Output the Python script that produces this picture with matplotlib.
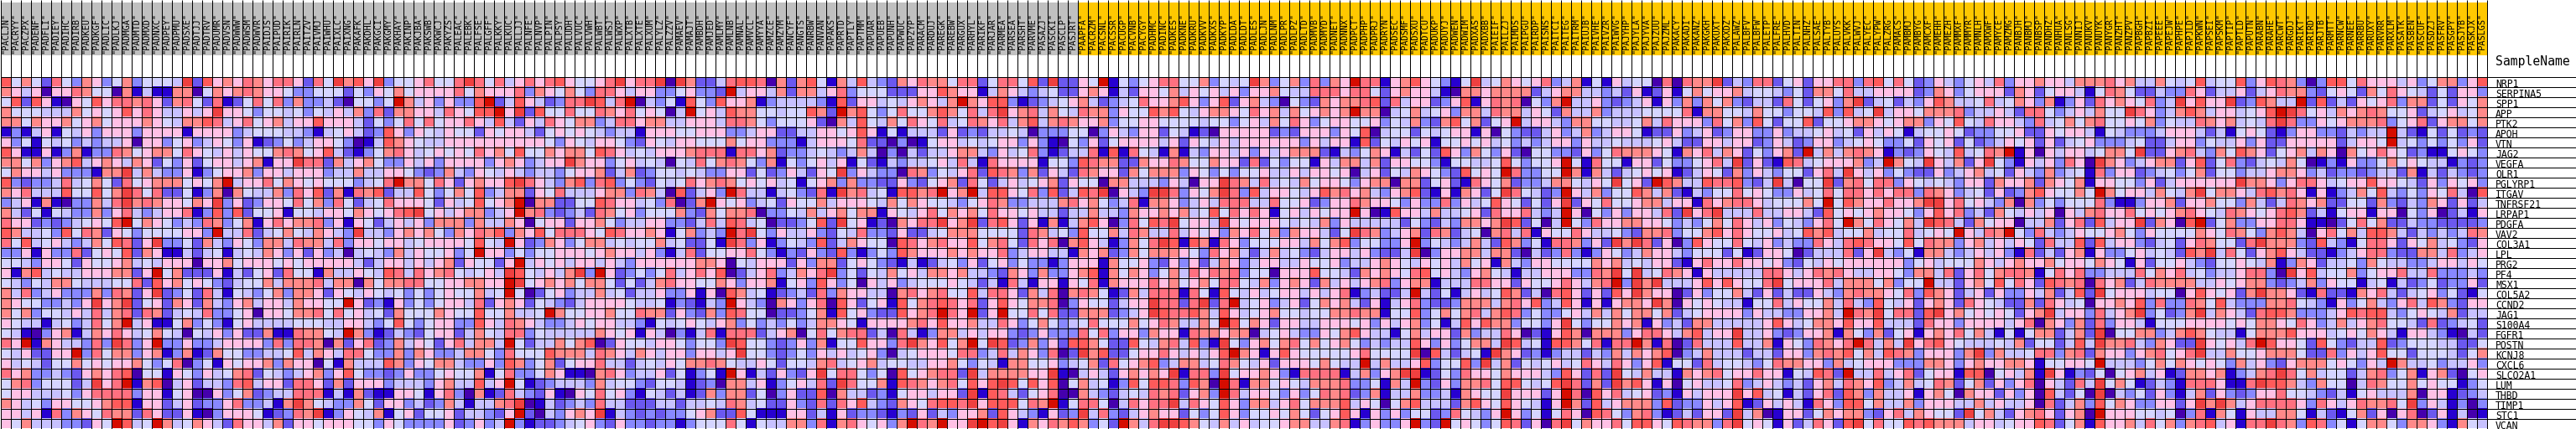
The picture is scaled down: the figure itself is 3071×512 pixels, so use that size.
import numpy as np
import matplotlib
matplotlib.use("Agg")
import matplotlib.pyplot as plt
from matplotlib.colors import ListedColormap, BoundaryNorm

W, H = 3071, 512

genes = ["NRP1", "SERPINA5", "SPP1", "APP", "PTK2", "APOH", "VTN", "JAG2", "VEGFA", "OLR1",
         "PGLYRP1", "ITGAV", "TNFRSF21", "LRPAP1", "PDGFA", "VAV2", "COL3A1", "LPL", "PRG2", "PF4",
         "MSX1", "COL5A2", "CCND2", "JAG1", "S100A4", "FGFR1", "POSTN", "KCNJ8", "CXCL6", "SLCO2A1",
         "LUM", "THBD", "TIMP1", "STC1", "VCAN"]

gray_samples = """PACLJN PACRYY PACZPX PADENF PADFLI PADIEY PADIHC PADIRB PADKEU PADKGF PADLIC PADLKJ
PADMGA PADMTD PADMXD PADNXC PADPEY PADPMU PADSXE PADTJJ PADTRV PADUMR PADVSN PADWWW PADWSM PADWVR
PAIDJS PAIPUD PAIRIK PAIRLN PAITZV PAIVMJ PAIWHU PAIXLC PAIXNG
PAKAFK PAKDHL PAKGCI PAKGMY PAKHAY PAKINP PAKJBA PAKSWB PAKWCJ PAKYZS PALEAC PALEBK PALFSE PALGFF
PALKKY PALKUC PALLJJ PALNFE PALNVP PALPIN PALPSY PALUDH PALVUC PALVWH PALWBT PALWSJ PALWXP PALXTB
PALXTE PALXUM PALYLZ PALZZV PAMAEV PAMAJT PAMBDH
PAMJED PAMLMY PAMLNB PAMNAL PAMVCL PAMYYA PAMZCE PAMZYM PANCYF PANGTS PANRBW PANVAN PAPAKS PAPRTD
PAPTLY PAPTMM PAPUAR PAPUEB PAPUNH PAPWUC PAPZYP PARACM PARDUJ PAREGK PAREBW PARGUX PARHYL PARIKF
PARJAR PARMEA PARSEA PARSHT PARVME PASAZJ PASCKI
PASCLP PASJRT""".split()

yellow_samples = """PAAPFA PACRZM PACSNL PACSSR PACUGP PACVNB PACYGY PADHMC PADINC PADKES PADKNE PADKRU
PADKVV PADKXS PADKYP PADLDA PADLDT PADLES PADLJN PADLNM PADLPR PADLPZ PADLTD PADMVB PADMYD PADNET
PADNNX PADPCT PADPHP PADPRJ PADRYN PADSEC PADSMF
PADSXU PADTCU PADUKP PADUYJ PADWEN PADWIM PADXAS PADXBB PAIEIF PAILZJ PAIMDS PAIPGU PAIRDP PAISNS
PAITCI PAITEG PAITRM PAIUJB PAIVHE PAIVZR PAIWVG PAJYHP PAJYLA PAJYVA PAJZUU PAJZML PAKACY PAKADI
PAKANZ PAKGKH PAKUXT PAKXDZ PALAWZ PALBFV PALBFW
PALETP PALFRE PALHVD PALTIN PALNHZ PALSAE PALTYB PALUYS PALVKK PALWVJ PALYEC PALYPW PALZRG PAMACS
PAMBMJ PAMBYG PAMCXF PAMEHH PAMEZH PAMMXF PAMMYR PAMNLH PAMXWF PAMYCE PAMZMG PANBJH PANBMJ PANBSP
PANDHZ PANHUA PANLSG PANNIJ PANUKV PANUYK PANYGR PANZHT
PANZPV PAPBGH PAPBZI PAPEEE PAPEJW PAPHPE PAPJLD PAPKWN PAPSEI PAPSKM PAPTIP PAPTLD PAPUTN PARABN
PARAHE PARCWT PARGDJ PARIKT PARIRD PARJTB PARMTT PARNCW PARNEE PARRBU PARUXY PARVRR PARXLM PASATK
PASBEN PASCUF PASDZJ PASFRV PASGPY PASJYB PASKJX PASLGS""".split()

# colour level per cell, a (deep blue) .. l (deep red)
level_colors = ["#4500AD", "#2700D1", "#6B58EF", "#8888FF", "#C7C1FF", "#D5D5FF",
                "#FFC0E5", "#FF8989", "#FF7080", "#FF5A5A", "#EF4040", "#D60C00"]

block1 = ["jfhfcifdhg dfhdfffekc jghgihgiig cifkh", "hgegaggihf fahbebbhha fhghihggfd dfffc",
          "fjcjgbagfj giihigchif cibcfifidh ddeca", "hfffeeehfg fgjgigeege gkggfdffef dfege",
          "hhfhgghfgh fggghgfehh jiegifgheg gjggg", "bdbegbfegd gggdggggbg gggdefffee dbefg",
          "gdfbfefded eegaggdfgd egfdgbcdfd eggfd", "jgbbgbdhbd dihfghhfig fegegffhih fgjec",
          "hhfhdghjeg hgehgcfdgc fggeghbggk iiche", "fhggegdddb hhkeheddgb dfgghdggeg ggdee",
          "jdcddeiefh fcifghhhfg fhleggifhg fgfff", "hgieeejffj fhkificcfb dhahfeehdi gjchb",
          "degbhbaddh eikhihggfh gkdgcdggfi fhdif", "hecfbfeddh dgiedeggib djdjcffgbf feggf",
          "iggcdcdefg fjlfhgfded ihdfhbgigh hidgb", "jheefdjfih cgfdffffgg dleeicefhf ehged",
          "ifjefgedeh fjicgkddfc hedgfdhhei hheid", "ddgbgddicf gfjchgbbec efbefehgdg cgdea",
          "ffedggfcgf fghefeggga gghfgggfgf ggggg", "gbhjefeegg ghhcglfhcc cgbecfgcif fbhee",
          "fedfehhfee efficjghfg fdceffhehh hiehh", "heidegdddh dihcgkcdfc iebfedfhdh hgcgf",
          "hgffddedgk ghkcfgchgc hedgheggeh ggffl", "hfhdffegei ehicihcefe iddfgaggfh hifif",
          "gfeebefdei fhlegbbfhd fdbfgeeeef ffeeg", "febadghbeh gigefhfeaf egdgcchbbi hhfel",
          "iglbhgeedi dkidglddgd deggggdidi ihahc", "fegccggldi fhhdghbdhb chffddeefj ehgei",
          "gefecffhfg fgghfdfiad fbgfgghdhg gafbh", "ighddedcgh gijaffbgfd gefhicfede ghdgj",
          "fhidfffcek gilbhjaegc eedijeggci igchc", "fggeeefdgi iiidggbfga agdfhcdeei iibeb",
          "hgefdggffg hjjbggcegc ddgiddebhk hfedd", "ggegbidhgf ihhcigccgb adgggfbcdi hkbdg",
          "gfheeeddcg fljeflhefh geciggehcg gfggg"]

block2 = ["jgkdffgiff ikifiegigi jgffgikgii kakhc", "fdgfhfgggg ifhgggidhg fhfdiigegg ddfgd",
          "ffdflhegdg ddjlcejgec diikjeilae dfbjf", "hdichhggei gfjjlgkcjf fiffihgifg faelf",
          "ecfdfififg gigejecgei gfhhdeiigh heegg", "ecdjgdgfeg ffcgfggecf gfgfedeebg ggffg",
          "abejhgfeeg gggggggggf dgfeggfdcg feggf", "bdfhigefgf gfighfjffh ghhfjigefe ggghi",
          "ghfddgegdg gggdghgdeg gkhggdfgef eafei", "heeggfdcdh edgfegedee dfgghcehcd ffefe",
          "defilhhfig cghggjkige dhjdijdfdc fefig", "ihjceejfdf hfjdehhcgf ieeeghhdih eajce",
          "cefigggfcg efjfghlahh ccffjiggef diach", "hgfgijkfge ghhdeglhid cdecihfgdf ffhdc",
          "gfcegegdhh hdheehgafg gcgghfdeeg gddce", "keedghghfd hgihjdhgjf iiigfjiggh gbfhd",
          "ggfggefggg gfjfelgcdh gdfhhefeff hefcc", "efedhegffg dflggdfdff gggfghggeg dbeic",
          "eceggegegh cgffcglegf geggegedgg ggggh", "gfejieighi fefgekjfeg ehkdlgcdfd fiegi",
          "ahfhhiiffg ghhgglkfgh ghfhhfcfce higgf", "egfefdfdfg ffheflfacf gdeehefcee gddgb",
          "gcdbgdfdfg geicghgcfe dceggggfee fbdcb", "gefchfffhg ffjffheefl hffgghffih hcgdc",
          "gedfjfdfgg ddjgeihged degfggeedb fefgf", "hdbcedcfgg cehfeiidfe eeeehgfgbg eadbe",
          "gicdhegfcg iehhelfcee hfhjacgffe ggfdf", "ifddhdhgdd ehhfdifffj hhheihgehg eggdg",
          "eeejhdgfhh eddgdjhdfh cfggieecef egfhh", "fddcdgddfg ffhbfiddfh gbbahigdee gcfbd",
          "gggdeeedgh eejeglfbcd eeedheffdc ffebc", "hcbbggfbgi dahbciedcg bagfifgdbf ecebc",
          "hfcggdecdh ebeehikabe cdedieeccc eecee", "fehbfgcffg ceedcglcae dghgkbedcd cddfg",
          "ffdgfddddg cdgdeldbcc defgdcgddc ddbdf"]

block3 = ["ceijjiahch jfbhejedch gihhfiicfi ifjck", "dcleggehch hegidfffcc cggjhggbeh gedef",
          "djgghbdeee edbjcggefe ghgehlhgjj dbcde", "gejhhffeff jhclhjfdfi ffhjhfieik ghieh",
          "geiihfdfff gcahejfehf igfiefihgi ehjeh", "ggddeggcce eggfgjgbfb eeecgcdcee feadd",
          "ffhfggdddb egggficcad abfggefefg gdgdb", "iibiighcdd efedeheada eceeghhedg efidb",
          "fhihfdhbfd fgegbfcbed eefgeiebig gggbf", "ddggcfcdge cgfkdgedda ihdfegicji hdhcg",
          "hihfgfgefb fghdhddccg dcfghcifce gefgh", "gdlieebefd cibkhiefbj jhilghlejj gfidj",
          "lgfgdefcgf fhegggfehf hgffedfgih ddeee", "hfhhiaddfe heghfhhbgf egifhghfig gfgee",
          "iejiefaccd fjckfgbcah giikghkcij gcgbh", "edlikfdgee gdcfeiddcg ccefhhhfff fcihe",
          "fbkidgbdfe djcehgffaj ighiggjfhi fcigi", "ffggifdbdc gdcjdbdfdj hggghghggi degge",
          "hgafegggcg dhhcfgfdcb ebcefdgcfg dfddb", "gjacegideh gikdfcfehf gehhgheedc hgdhd",
          "fhgdgghbfg djgdfagegd efffgfeceb iebgg", "gajhefbcde cidhggeeah ighiffjeii gchei",
          "edlgedahgd giajgcfgbj fhijigicgj gfhhi", "hdjiffaccd fhbjfgdccj ghiliglcgl ffifi",
          "eghdfdedfd ehhgfbgggg higjggheei gdfhf", "ibiiicegha fifhiiceai ebdhhegegg dcdgd",
          "fdkjffdcdg dhbffjggdi khgjfhlfkj cdhdg", "gegkffdcdf dgegefgdae fgggfiidei ehgdi",
          "ihfeegfcff ehiefgheff eegghfdfeb hhffg", "fblgbecgdc gkfiifdfaj fghiickehh hhggk",
          "dahhegbdfg eickiffhbj ihghifjgjk jfjgj", "hdhhcfadgc cjaheecdbf ggeggckbji ecfgi",
          "feihefccgd cicigjedch gfijjikgjj jfihl", "hccjfbbbgg cebgcddcbd cgcedgghcj gedbg",
          "ffifbfeehh dibhigfgdh lihlggkljk gbhgi"]

block4 = ["ccgflbfdfg iiffhdfefk hdfhdidhgl iibgh", "ccghgbecgg fhegfgegdg ghfeeiiigi ifcgh",
          "fghecdefig ghjgdgjcgh edafdchghh ijcie", "feihhdgffj hjfeghhgfi ghehfghghl hhaef",
          "ihgghdffgg ffffeffdfg ehfigdfggf fgdfe", "dffadgedgg cfebcagggg gcdcgggdgf jaeff",
          "afdgcfgggg egcgfegegg ggggdgeggb jcfeg", "ceeibjbife bhbedggegd geghhhcbed fhgbe",
          "fdjihhcchg gihffhggci cfdffbgehh ehcgg", "ecihggchfh hhdgfdfdff geegeggfga egcfe",
          "cgffahheee dgeaggkihe iefehfggfd ghhah", "cejikagedk kidgfhkidj eggfegjhig hedgh",
          "highfdeibh hgdegeiiie eiffgcdggi hggfd", "ceeheedhgg hghefjfigi gbfgegfggl gabjg",
          "behjgadifj ikfggekgfg ggfefehdge eeeec", "fdjffheihe eiegfgdhgi fhdhggecfk ihdeg",
          "ahjgebdhfi kjbjhbigdf ffggehfhjd ffddg", "ebhghcdhfh hhgfdighec ehefdcegge gdcce",
          "dgggbhffgd cgdgcehgde ggeegffgde eghgf", "dghjbhfhgd fheigihidf fagggjffec hghgf",
          "bgfibhgggi ghfghfiife hdghgchege ghidg", "ahihfbchei iibifbjfeg efggegegib decce",
          "adgffceggk iicikcilef gdegcfhghe cgbeg", "cchhhcdegk jiijhejgef ghffeffhhi hhbff",
          "defifffhfg iheehfljfh gcggeegggf gdgeg", "ddifidggdh ggbihhghha efgeddgfhj geebf",
          "cjjhfccjfe hiejdbkfdg hfhifhfghf dedee", "ackhjccfgg igegegjlhg bgjgfffffg iffff",
          "defhcifghj dehhefihfe gcgggfhfee lehee", "baegecghgh gkbiidkfgg hgdbiiiibe hdghk",
          "afhefbdjfj jidjhalibh hfgfehhhid dfbhe", "aahedcefei hicghdlieg gfdgdfihic dhbee",
          "bfiifaeigi ikeigfjgdh hegifhhhje gfafh", "cdkeidcegh ggcfdfjgdf fgfhfcfgjg bgdgd",
          "hjhdfclhei kkjhfehege ffghheehib dgddg"]

block5 = ["jgfdbfkefh gfgidehbfb geffaiaihh kcedi", "ggebahhghh hhceghheed ecgbcgbfhf gghef",
          "ggcdgjbgih iafdhleegd cdegbgdhdh fhdce", "hefgdhheih hegfcheehd eeeffffibh hffeh",
          "hdchjfhcfg leggedhhff eefheigggd ifhdj", "cfefggbgaf dccegdehde ggfbccgdeg cdggd",
          "fgbffgfgef dedeggdgee feeefgeccg geggc", "cfcjgdhfdg caffddcgdf ihhhgfbhgi ehgcf",
          "ffdbffeefj fdffglfbif fbggcfddfg iekcg", "hgfdcjfgfl iddfflhbhe cefgfgbceg fchdg",
          "hcfgcbigfh cddehhfegf kfgcljheej iijdc", "jcbgbhgcfk ifecdlgehd ffjhehcbed ffifg",
          "gddidgefjg fcfcgkcgfi ffghheggbi ghiig", "geheefgcig giedelgafd gdggeickgi keeei",
          "fdcedhhghk jcfaelfdig ghhggfdedf hfige", "hcihcefahi eibgffigee fdchhidffh jgigf",
          "ldfedehecj hdfbiihdgc khkicgadjg ffife", "kadgghhehh caecdidbdg fdehggedff fcfbc",
          "egfgehfgbh edggffffhg hefeggcbgi ggigg", "ijfgedghfe beegggddih kfkefihgbg eeeee",
          "hhbeeeiigg cgffgigehi ldkhkeeegj gjgff", "lecfbegefj hceaijgcgc jgkhggacgd ffhec",
          "idccdhhheh igjdejgbgb ghhgkhagfg feebf", "jdfhfhiehj idfddfgehe hfhhfhcefg gggdg",
          "hdfbejgjhh dffdgkfdff hghbgdechh eeeee", "heggchdeei gacbgjhahh hdgiigehje ggkee",
          "jgdgdfhhek jefbjjhfib iilhbiacie eejee", "kajecefbkh gcdbdeeced hehghjadeh eeece",
          "gjdffjdkeh cfefgefige igdgjbffci effed", "kbcfdiggfh gggedjgcic kfeheebhgh ifggi",
          "ldcgdhhifj jfefjkichc khjgbgafge efide", "hddebhgffk gggcgliajg iefgcdbgeg ggkgj",
          "jeeechjgfj gfebglhcje ghhhdjcddg egjbc", "ffcdifedgl gdfbfigaji fdhidbcecg gckeh",
          "ldclfgfdfj icgaikfhgg ifjjgfjihh dikfg"]

block6 = ["icfgcggiid ijfifcdged fgeidgghgg ehhhig", "fedfchhfie eggggcdhgd fgggchgcfg gebfih",
          "ecifcfgdhk cefcedgjhe efiefhgdhb dgcigh", "ffdffejdje fkeggfhhhi deegeciifd egehff",
          "fcffjcffgh hgfghhdgfj feiggedief hfhiff", "dgdeefgefc gegfbeffgf cddffgccgf ggebfe",
          "dgecdggdef gfddfcgfgc fcdegfgcgc efgddd", "dghclehehi hgbdcdgfej efihlbgage ggefhh",
          "cbjiefgggh delhfekgeh cgkfdbgegd igakhg", "edffcgiekg egdfdccgde ghefcgedhd efbidg",
          "ekeaffkchi fiidgfefed ggchgghchg fhbggf", "fddgefifii gigiidihgd efcgcdhjgf fhflhf",
          "efffhflfjh ggigghkkgi fgedhahdfd fffidb", "eeggecjfgf ghggfdgjgi dechfegega gehigg",
          "gdfedgiflh figfhekjie chfggaeehc gicjeg", "fgefjhjeff heffiefgfl geihlfdied egffgh",
          "gdeddigeij iggfjfihhd ghegegfcie ejcjeg", "ggfaceeeic gkedfbhhed egegdbicec ghbgdd",
          "fgdcfegfgg ggggdfgeff fhgeghgghf ggfhgf", "iigegihige eggfdhheic gifhiihbfi giddee",
          "ikfgggiehh hfhdffleec ghfjfigcji hiaigh", "gceccgedhi hhgfidjhgc egcgddgehc ejckfg",
          "fiegffheie djfegcghgc igfecchcig efaggh", "eeddggheli hkfiicjkgh fgfgfcghke ggdieg",
          "gjgefhhgjg gjeeeciggd ggggegiahg dhcidg", "gdcdgghbhf dhcfgbghgi fhebfbfhhc ehckaf",
          "hbgfdihgil iehekgijgf eeefehcffc ejekhh", "ecggdhihjf hejihdgggd hkdheefiid hichgg",
          "fihhggdhef gggdddhhgd ghgghhgbff ggflee", "ggbfejicle eiegicfggb jjafgehbkg bdcfaf",
          "gedecgheih gjdehefihc fhcgdgiage ciekfh", "efbecgicjh dheegbghfa hggcgdgaje cfakae",
          "gegebigdjj fheehdggge ehegeegaic ehdjfh", "abggcfhghh dcgiehgffc kfhecghigc ghalgg",
          "fbgceigcjk fiffjijhhh eggefggjic fhbjgg"]

block7 = ["heehfefjef fjdgjihdad jjfigggegd fhhdgj", "fcceddigce egcegihhdc fgfchfigfe cfcggd",
          "gfidekgjgg kcdjheelcj cecgfgidhh cfcgfh", "kigdehjheg gefgjlkifg ehghihffgc efgefh",
          "gfhdfeeihg hefeikiddg fghhhidfgi cghhfh", "dddegggece bfgfcbdggd dcedeelecb fcfcdc",
          "efcceggdfe egdgccgggg gceggflefd fdfdgc", "fkccghiedh fjhgcfgheh gahfgigfcd bbfgfd",
          "deghhcgjcf idcefehfab dbgddfhfgf eebdcd", "gcdefdfhcf fdeeghhgde cddcdeechb ecedcd",
          "fdgceggggg gkhhgdgiig efggjggfec gdgfgd", "ggehfehkfh hgeijhigbg bdehfjedfd gfieaj",
          "bdgghcgghf fdheceihgh ccffchdced hgcgce", "ifgfghigfe ihgfgijhce bfggbggafd gacebg",
          "gkchgajlcf hddggiigbb acfifhcced dccccd", "fdgffffhgf ihfdhjheag ifhejjhece dedeih",
          "gdcefcgihf fcikhhhdcj edbfiigcgf hefdcg", "fgefecjhke ifcghjgecc bdegiidcch heideg",
          "bgcffgedcf fgfehbdhgc eefdhfeedd eggegf", "eifhgiefde egiidakgje ffhdfggiee iddded",
          "ceihhhheeg fghhdcdehd gffbefbecd fcddgc", "ggeffagjgf gchkhhgcbi ccbhgiecef gdfcbf",
          "gjdiddihfj edddhhifed bgdfhedgie jhdcgg", "hkdfcdhkeh gecijjhddd egjijjedfg fehcee",
          "gebfffgggg fgfhhgfigd eheghiffec icdefc", "fhhdehjhfe ebfhhhjggg efgfhgebgg edbaec",
          "iedhgcckgf geiljggfcj fdceejcdff feeccf", "dghifgikee hffghhhfcc idgegjffcf ffecfh",
          "edfhfhgfgf dhegdcghhh fgfdgelhee fdeegd", "ghegbchhgh bdehikifhe ffcehidfhb ghcafg",
          "fbcedbiiig bbikjjhedh ffaeihffhf gffbdf", "dfcgdbehcg dcdggiffed cebfgeeeha ggbcde",
          "gddggcgkhk hegiiiigdi gegihhifkd gebdad", "gffefadibh fbgeehhfbe cbfhcgagia cgbeab",
          "heifhdhije gbiikihdji dfbfhhfdhh gdbhfe"]

blocks = [block1, block2, block3, block4, block5, block6, block7]
rows = ["".join(b[i].replace(" ", "") for b in blocks) for i in range(len(genes))]

samples = gray_samples + yellow_samples
n_cols, n_rows = len(samples), len(genes)
bad = [i for i, r in enumerate(rows) if len(r) != n_cols]
if bad:
    raise SystemExit(f"bad rows {bad} {[len(rows[i]) for i in bad]} cols {n_cols}")

levels = np.array([[ord(c) - ord("a") for c in r] for r in rows])

px = 1 / 100
fig = plt.figure(figsize=(W * px, H * px), dpi=100, facecolor="white")

x0 = 0.5
cell = 12
top_heat = 91.5
heat_w = n_cols * cell
heat_h = n_rows * cell

# heat map
ax = fig.add_axes([x0 / W, (H - top_heat - heat_h) / H, heat_w / W, heat_h / H])
cmap = ListedColormap(level_colors)
norm = BoundaryNorm(np.arange(len(level_colors) + 1) - 0.5, cmap.N)
ax.imshow(levels, cmap=cmap, norm=norm, aspect="auto", interpolation="nearest",
          extent=(0, n_cols, n_rows, 0))
ax.set_xlim(0, n_cols)
ax.set_ylim(n_rows, 0)
ax.axis("off")
ax.vlines(np.arange(n_cols + 1), 0, n_rows, colors="k", linewidth=0.72, clip_on=False)
right_frac = (W - x0) / heat_w
ax.hlines(np.arange(n_rows + 1), 0, right_frac, colors="k", linewidth=0.72, clip_on=False,
          transform=ax.get_yaxis_transform())

for i, g in enumerate(genes):
    ax.text(n_cols + 0.88, i + 1, g, family="DejaVu Sans Mono", fontsize=8.3,
            ha="left", va="baseline", clip_on=False)

# sample header
hx = fig.add_axes([x0 / W, (H - top_heat) / H, heat_w / W, top_heat / H])
hx.set_xlim(0, n_cols)
hx.set_ylim(top_heat, 0)
hx.axis("off")
hx.bar(np.arange(len(gray_samples)) + 0.5, 63, width=1, bottom=3, color="#C0C0C0")
hx.bar(np.arange(len(yellow_samples)) + len(gray_samples) + 0.5, 63, width=1, bottom=3, color="#FFC800")
hx.vlines(np.arange(n_cols + 1), 0, top_heat, colors="k", linewidth=0.72, clip_on=False)
for j, s in enumerate(samples):
    hx.text(j + 0.5, 64, f'"{s}"', family="DejaVu Sans Mono", fontsize=7.4, rotation=90,
            ha="center", va="bottom", color="k")
hx.text(n_cols + 0.88, 78, "SampleName", family="DejaVu Sans Mono", fontsize=10.6,
        ha="left", va="baseline", clip_on=False)

fig.savefig("out.png", dpi=100)
